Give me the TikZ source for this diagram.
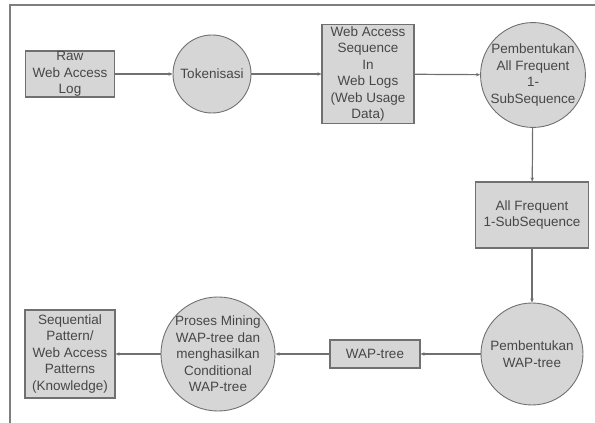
\documentclass[tikz,border=0pt]{standalone}
\usepackage{fontspec}
\setmainfont{Liberation Sans}
\usetikzlibrary{arrows.meta}
\definecolor{isi}{HTML}{D6D6D6}
\definecolor{garis}{HTML}{707070}
\definecolor{teks}{HTML}{474747}
\tikzset{
  kotak/.style={draw=garis, fill=isi, line width=1.1pt, rectangle, inner sep=0pt, align=center, text=teks, font=\fontsize{13.5}{16.5}\selectfont},
  bulat/.style={draw=garis, fill=isi, line width=0.9pt, circle, inner sep=0pt, align=center, text=teks, font=\fontsize{13.5}{16.5}\selectfont},
  panah/.style={draw=garis, line width=1.2pt, -{Stealth[length=4pt,width=3.5pt]}}
}
\begin{document}
\begin{tikzpicture}[x=1pt,y=1pt]
\useasboundingbox (0,0) rectangle (595,423);

\draw[garis!90, line width=1.6pt] (595,418) -- (10,418) -- (10,0);

\node[kotak, minimum width=89, minimum height=46] (raw) at (70,349) {Raw\\Web Access\\Log};
\node[bulat, minimum size=78] (tok) at (212,349) {Tokenisasi};
\node[kotak, minimum width=92, minimum height=99] (seq) at (368,349) {Web Access\\Sequence\\In\\Web Logs\\(Web Usage\\Data)};
\node[bulat, minimum size=104] (pall) at (533,348) {Pembentukan\\All Frequent\\1-\\SubSequence};
\node[kotak, minimum width=113, minimum height=66] (allf) at (532,208) {All Frequent\\1-SubSequence};
\node[bulat, minimum size=102] (pwap) at (532,69) {Pembentukan\\WAP-tree};
\node[kotak, minimum width=90, minimum height=28] (wap) at (375,69) {WAP-tree};
\node[bulat, minimum size=112] (proses) at (218,69) {Proses Mining\\WAP-tree dan\\menghasilkan\\Conditional\\WAP-tree};
\node[kotak, minimum width=90, minimum height=88] (hasil) at (70,69) {Sequential\\Pattern/\\Web Access\\Patterns\\(Knowledge)};

\draw[panah] (raw) -- (tok);
\draw[panah] (tok) -- (seq);
\draw[panah] (seq) -- (pall);
\draw[panah] (pall) -- (allf);
\draw[panah] (allf) -- (pwap);
\draw[panah] (pwap) -- (wap);
\draw[panah] (wap) -- (proses);
\draw[panah] (proses) -- (hasil);
\end{tikzpicture}
\end{document}
